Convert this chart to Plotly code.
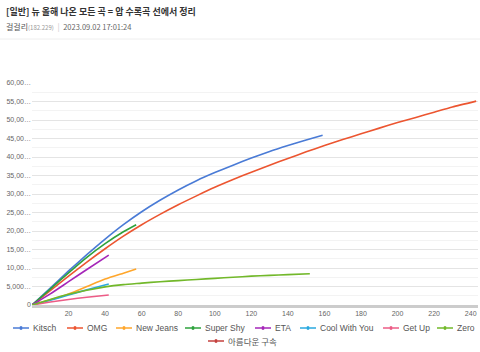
import plotly.graph_objects as go

# ---------------- data ----------------
names = ["Kitsch", "OMG", "New Jeans", "Super Shy", "ETA", "Cool With You", "Get Up", "Zero", "아름다운 구속"]
colors = ["#4a7bd6", "#ec5530", "#ffa62b", "#2ea23c", "#a526b8", "#2aa8df", "#ec5c86", "#72b82a", "#c4413e"]

kitsch_x = [0, 10, 20, 30, 40, 50, 60, 70, 80, 90, 100, 110, 120, 130, 140, 150, 159]
kitsch_y = [0, 4600, 9200, 13600, 17800, 21700, 25200, 28300, 31100, 33600, 35800, 37800, 39700, 41500, 43100, 44600, 45900]

omg_x = [0, 10, 20, 30, 40, 50, 60, 70, 80, 90, 100, 110, 120, 130, 140, 150, 160, 170, 180, 190, 200, 210, 220, 230, 243]
omg_y = [0, 3900, 7800, 11600, 15200, 18600, 21700, 24500, 27100, 29500, 31800, 33900, 35900, 37800, 39600, 41400, 43100, 44700, 46300, 47800, 49300, 50700, 52100, 53500, 55100]

newjeans_x = [0, 10, 20, 30, 40, 50, 57]
newjeans_y = [0, 1400, 3000, 5000, 7000, 8600, 9700]

supershy_x = [0, 10, 20, 30, 40, 50, 57]
supershy_y = [0, 4300, 8700, 12900, 16600, 19800, 21700]

eta_x = [0, 10, 20, 30, 42]
eta_y = [0, 3000, 6300, 9600, 13500]

coolwithyou_x = [0, 10, 20, 30, 42]
coolwithyou_y = [0, 1300, 2700, 4100, 5700]

getup_x = [0, 10, 20, 30, 42]
getup_y = [0, 800, 1500, 2100, 2700]

zero_x = [0, 10, 20, 30, 40, 50, 60, 70, 80, 90, 100, 110, 120, 130, 140, 152]
zero_y = [0, 1500, 2900, 4000, 4900, 5500, 5900, 6300, 6600, 6900, 7200, 7500, 7800, 8000, 8200, 8450]

gusok_x = [0, 2, 4]
gusok_y = [0, 500, 1000]

series_x = [kitsch_x, omg_x, newjeans_x, supershy_x, eta_x, coolwithyou_x, getup_x, zero_x, gusok_x]
series_y = [kitsch_y, omg_y, newjeans_y, supershy_y, eta_y, coolwithyou_y, getup_y, zero_y, gusok_y]

y_tickvals = [0, 5000, 10000, 15000, 20000, 25000, 30000, 35000, 40000, 45000, 50000, 55000, 60000]
y_ticktext = ["0", "5,000…", "10,00…", "15,00…", "20,00…", "25,00…", "30,00…", "35,00…",
              "40,00…", "45,00…", "50,00…", "55,00…", "60,00…"]
x_tickvals = [20, 40, 60, 80, 100, 120, 140, 160, 180, 200, 220, 240]

title_text = "[일반] 뉴 올해 나온 모든 곡 = 압 수록곡 선에서 정리"
author_text = "걸걸리"
ip_text = "(182.229)"
date_text = "2023.09.02 17:01:24"

# ---------------- layout constants ----------------
W, H = 480, 352
ML, MR, MT, MB = 32, 2, 83, 47
PW, PH = W - ML - MR, H - MT - MB
FONT = "Liberation Sans, Arial, Noto Sans CJK KR, sans-serif"
KFONT = "Noto Sans CJK KR, Liberation Sans, sans-serif"


def px(xp):
    return (xp - ML) / PW


def py(yp):
    return (H - MB - yp) / PH


fig = go.Figure()
draw_order = [8, 0, 1, 2, 3, 4, 5, 6, 7]
for i in draw_order:
    fig.add_trace(go.Scatter(
        x=series_x[i], y=series_y[i], mode="lines", name=names[i],
        line=dict(color=colors[i], width=1.6, shape="spline", smoothing=0.6),
        showlegend=False, hoverinfo="x+y+name"))

# manual legend (two rows, like the reference)
legend_pos = [(13, 328), (67, 328), (116, 328), (185, 328), (255, 328),
              (300, 328), (383, 328), (437, 328), (208, 341)]
shapes = []
annotations = []
for i, (lx, ly) in enumerate(legend_pos):
    shapes.append(dict(type="line", xref="paper", yref="paper",
                       x0=px(lx), x1=px(lx + 16), y0=py(ly), y1=py(ly),
                       line=dict(color=colors[i], width=1.5)))
    shapes.append(dict(type="rect", xref="paper", yref="paper",
                       x0=px(lx + 7), x1=px(lx + 9), y0=py(ly + 1.5), y1=py(ly - 1.5),
                       line=dict(color=colors[i], width=0.5), fillcolor=colors[i]))
    annotations.append(dict(xref="paper", yref="paper", x=px(lx + 18), y=py(ly),
                            text=names[i], showarrow=False, xanchor="left", yanchor="middle",
                            font=dict(size=8.5, color="#555", family=KFONT if i == 8 else FONT)))

# header
annotations.append(dict(xref="paper", yref="paper", x=px(4), y=py(12), text="<b>" + title_text + "</b>",
                        showarrow=False, xanchor="left", yanchor="middle",
                        font=dict(size=9, color="#333", family=KFONT)))
annotations.append(dict(xref="paper", yref="paper", x=px(4), y=py(27),
                        text=author_text + "<span style='font-size:6px;color:#999'>" + ip_text +
                        "</span><span style='color:#ccc'>  |  </span>" +
                        "<span style='font-size:7.5px;color:#666'>" + date_text + "</span>",
                        showarrow=False, xanchor="left", yanchor="middle",
                        font=dict(size=8, color="#555", family=KFONT)))
shapes.append(dict(type="line", xref="paper", yref="paper", x0=px(0), x1=px(480),
                   y0=py(39), y1=py(39), line=dict(color="#eeeeee", width=1)))

fig.update_layout(
    width=W, height=H,
    margin=dict(l=ML, r=MR, t=MT, b=MB),
    paper_bgcolor="white", plot_bgcolor="white",
    showlegend=False,
    shapes=shapes, annotations=annotations,
    font=dict(family=FONT, size=7, color="#666"),
    xaxis=dict(range=[0, 244], tickvals=x_tickvals, showgrid=False, zeroline=False,
               showline=True, linecolor="#cccccc", linewidth=3, ticks="",
               tickfont=dict(size=7, color="#666")),
    yaxis=dict(range=[0, 60000], tickvals=y_tickvals, ticktext=y_ticktext,
               showgrid=True, gridcolor="#e4e4e4", gridwidth=1, zeroline=False,
               ticks="", tickfont=dict(size=7, color="#666"),
               minor=dict(dtick=2500, tick0=0, showgrid=True, gridcolor="#f3f3f3", gridwidth=1)),
)

fig.write_html("out.html")
